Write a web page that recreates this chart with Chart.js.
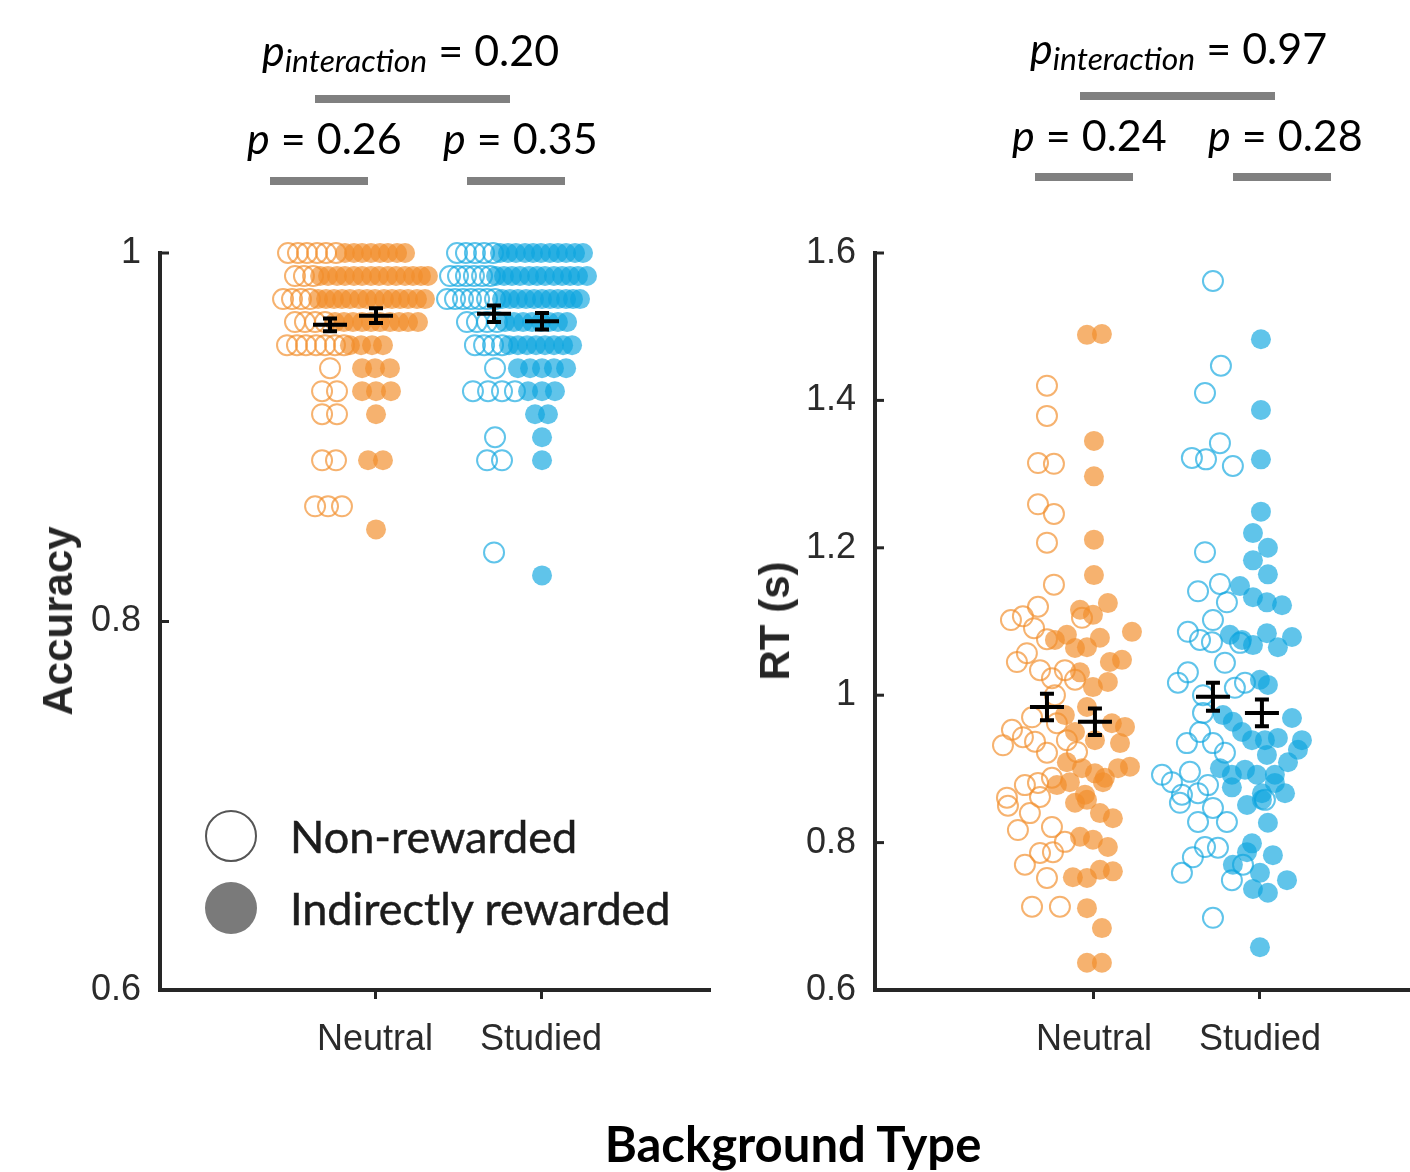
<!DOCTYPE html>
<html>
<head>
<meta charset="utf-8">
<script src="https://cdn.jsdelivr.net/npm/chart.js@4.4.0/dist/chart.umd.min.js"></script>
<style>
  body { margin: 0; background: #fff; }
  #page { position: relative; width: 1410px; height: 1172px; overflow: hidden; background: #fff; }
  canvas { position: absolute; top: 0; }
  .pv { position: absolute; font-family: Lato, "Open Sans", sans-serif; font-size: 43px; line-height: 1; color: #000; white-space: nowrap; }
  .pv sub { font-size: 0.74em; font-style: italic; vertical-align: -0.2em; line-height: 0; }
  .bar { position: absolute; height: 8px; background: #808080; }
  .axtitle { position: absolute; font-family: "Liberation Sans", Arial, sans-serif; font-weight: bold; font-size: 42px; color: #262626; white-space: nowrap; transform: translate(-50%, -50%) rotate(-90deg); }
  .legend { position: absolute; left: 205px; top: 800px; font-family: Lato, sans-serif; font-size: 45px; color: #1c1c1c; -webkit-text-stroke: 0.5px #1c1c1c; }
  .legend .row { position: absolute; left: 0; height: 60px; display: flex; align-items: center; white-space: nowrap; }
  .legend .mk { width: 52px; height: 52px; border-radius: 50%; box-sizing: border-box; margin-right: 33px; -webkit-text-stroke: 0; }
  #xtitle { position: absolute; left: 793px; top: 1143px; transform: translate(-50%, -50%); font-family: Lato, sans-serif; font-weight: bold; font-size: 49px; color: #000; white-space: nowrap; }
</style>
</head>
<body>
<div id="page">
  <canvas id="accChart" width="740" height="1100" style="left:0;width:740px;height:1100px"></canvas>
  <canvas id="rtChart" width="670" height="1100" style="left:740px;width:670px;height:1100px"></canvas>

  <div class="pv" style="left:262px;top:28px"><i>p</i><sub>interaction</sub> = 0.20</div>
  <div class="bar" style="left:315px;top:95px;width:195px"></div>
  <div class="pv" style="left:247px;top:116px"><i>p</i> = 0.26</div>
  <div class="pv" style="left:443px;top:116px"><i>p</i> = 0.35</div>
  <div class="bar" style="left:270px;top:177px;width:98px"></div>
  <div class="bar" style="left:467px;top:177px;width:98px"></div>

  <div class="pv" style="left:1030px;top:26px"><i>p</i><sub>interaction</sub> = 0.97</div>
  <div class="bar" style="left:1080px;top:92px;width:195px"></div>
  <div class="pv" style="left:1012px;top:113px"><i>p</i> = 0.24</div>
  <div class="pv" style="left:1208px;top:113px"><i>p</i> = 0.28</div>
  <div class="bar" style="left:1035px;top:173px;width:98px"></div>
  <div class="bar" style="left:1233px;top:173px;width:98px"></div>

  <div class="axtitle" style="left:58px;top:621px">Accuracy</div>
  <div class="axtitle" style="left:775px;top:621px">RT (s)</div>

  <div class="legend">
    <div class="row" style="top:6px"><div class="mk" style="border:2px solid #555"></div>Non-rewarded</div>
    <div class="row" style="top:78px"><div class="mk" style="background:#7a7a7a"></div>Indirectly rewarded</div>
  </div>

  <div id="xtitle">Background Type</div>
</div>

<script>
const categories = ["Neutral", "Studied"];
const accTicks = [0.6, 0.8, 1];
const rtTicks = [0.6, 0.8, 1, 1.2, 1.4, 1.6];

// accuracy rows: [accuracy, x positions of the markers in that row]
const accNeutralNon = [
  [1.0, [0.476, 0.536, 0.590, 0.651, 0.705, 0.765]],
  [0.9875, [0.518, 0.572, 0.627]],
  [0.975, [0.446, 0.500, 0.554, 0.608]],
  [0.9625, [0.518, 0.578, 0.639, 0.699]],
  [0.95, [0.470, 0.530, 0.584, 0.645, 0.699, 0.759, 0.813]],
  [0.9375, [0.729]],
  [0.925, [0.681, 0.771]],
  [0.9125, [0.681, 0.771]],
  [0.8875, [0.681, 0.765]],
  [0.8625, [0.639, 0.717, 0.801]]
];
const accNeutralRew = [
  [1.0, [0.819, 0.873, 0.922, 0.976, 1.030, 1.078, 1.133, 1.181]],
  [0.9875, [0.669, 0.717, 0.771, 0.819, 0.873, 0.922, 0.976, 1.024, 1.078, 1.127, 1.181, 1.229, 1.277, 1.319]],
  [0.975, [0.657, 0.705, 0.753, 0.801, 0.849, 0.904, 0.952, 1.000, 1.054, 1.102, 1.151, 1.199, 1.253, 1.301]],
  [0.9625, [0.759, 0.813, 0.867, 0.922, 0.976, 1.030, 1.090, 1.145, 1.199, 1.259]],
  [0.95, [0.849, 0.916, 0.982, 1.048]],
  [0.9375, [0.922, 1.000, 1.090]],
  [0.925, [0.922, 1.006, 1.096]],
  [0.9125, [1.006]],
  [0.8875, [0.958, 1.048]],
  [0.85, [1.006]]
];
const accStudiedNon = [
  [1.0, [1.494, 1.548, 1.602, 1.657, 1.711]],
  [0.9875, [1.452, 1.500, 1.548, 1.596, 1.645, 1.693]],
  [0.975, [1.434, 1.482, 1.530, 1.578, 1.627, 1.675, 1.723]],
  [0.9625, [1.554, 1.614, 1.675, 1.735]],
  [0.95, [1.602, 1.657, 1.711, 1.765]],
  [0.9375, [1.723]],
  [0.925, [1.590, 1.681, 1.765, 1.843]],
  [0.9, [1.723]],
  [0.8875, [1.675, 1.765]],
  [0.8375, [1.717]]
];
const accStudiedRew = [
  [1.0, [1.753, 1.801, 1.849, 1.904, 1.952, 2.000, 2.054, 2.102, 2.151, 2.205, 2.253]],
  [0.9875, [1.729, 1.777, 1.825, 1.873, 1.928, 1.976, 2.024, 2.078, 2.127, 2.175, 2.223, 2.277]],
  [0.975, [1.765, 1.813, 1.861, 1.910, 1.958, 2.006, 2.054, 2.102, 2.151, 2.193, 2.235]],
  [0.9625, [1.783, 1.837, 1.892, 1.946, 2.000, 2.048, 2.102, 2.157]],
  [0.95, [1.807, 1.861, 1.916, 1.970, 2.024, 2.078, 2.133, 2.187]],
  [0.9375, [1.861, 1.934, 2.006, 2.078, 2.151]],
  [0.925, [1.922, 2.006, 2.084]],
  [0.9125, [1.964, 2.042]],
  [0.9, [2.006]],
  [0.8875, [2.006]],
  [0.825, [2.006]]
];
const accBarX = [0.729, 1.006, 1.717, 2.006];
const accMeans = [0.961, 0.966, 0.967, 0.963];
const accSems = [0.0035, 0.004, 0.0045, 0.0045];

// RT points: [x, RT in s]
const rtNeutralNon = [
  [0.717, 1.420], [0.717, 1.379], [0.663, 1.315], [0.759, 1.314], [0.663, 1.259], [0.759, 1.246],
  [0.717, 1.207], [0.759, 1.150], [0.663, 1.120], [0.572, 1.107], [0.500, 1.102], [0.928, 1.105],
  [0.639, 1.091], [0.717, 1.076], [0.596, 1.057], [0.536, 1.045], [0.675, 1.034], [0.747, 1.023],
  [0.825, 1.034], [0.886, 1.021], [0.765, 1.000], [0.627, 0.970], [0.506, 0.953], [0.452, 0.932],
  [0.572, 0.943], [0.645, 0.937], [0.717, 0.922], [0.777, 0.962], [0.837, 0.939], [0.898, 0.923],
  [0.584, 0.878], [0.663, 0.881], [0.747, 0.888], [0.476, 0.861], [0.675, 0.862], [0.482, 0.850],
  [0.614, 0.840], [0.542, 0.817], [0.747, 0.821], [0.825, 0.801], [0.675, 0.786], [0.753, 0.787],
  [0.584, 0.770], [0.717, 0.752], [0.627, 0.713], [0.795, 0.713]
];
const rtNeutralRew = [
  [0.958, 1.489], [1.048, 1.490], [1.000, 1.345], [1.000, 1.297], [1.000, 1.211], [1.000, 1.163],
  [1.084, 1.125], [0.916, 1.116], [0.994, 1.109], [1.229, 1.086], [0.765, 1.075], [0.837, 1.082],
  [0.886, 1.064], [0.958, 1.065], [1.036, 1.078], [1.096, 1.045], [1.169, 1.048], [0.916, 1.031],
  [0.994, 1.011], [1.084, 1.018], [0.825, 0.973], [0.958, 0.984], [1.108, 0.962], [1.187, 0.957],
  [1.157, 0.935], [0.886, 0.950], [1.006, 0.939], [0.837, 0.909], [0.928, 0.901], [1.006, 0.894],
  [1.066, 0.888], [1.145, 0.901], [1.217, 0.903], [0.777, 0.878], [0.855, 0.882], [0.946, 0.865],
  [1.054, 0.882], [0.886, 0.854], [0.958, 0.858], [1.036, 0.840], [1.114, 0.833], [0.916, 0.808],
  [0.994, 0.804], [1.084, 0.794], [0.873, 0.753], [0.958, 0.752], [1.036, 0.763], [1.114, 0.761],
  [0.958, 0.711], [1.048, 0.684], [0.958, 0.637], [1.048, 0.637]
];
const rtStudiedNon = [
  [1.717, 1.562], [1.765, 1.447], [1.669, 1.410], [1.759, 1.342], [1.590, 1.322], [1.675, 1.320],
  [1.837, 1.311], [1.669, 1.194], [1.759, 1.151], [1.627, 1.141], [1.801, 1.126], [1.717, 1.102],
  [1.566, 1.086], [1.639, 1.075], [1.711, 1.072], [1.880, 1.071], [1.789, 1.044], [1.566, 1.031],
  [1.506, 1.017], [1.849, 1.010], [1.910, 1.017], [1.657, 1.000], [1.657, 0.976], [1.639, 0.950],
  [1.560, 0.935], [1.717, 0.935], [1.789, 0.922], [1.410, 0.892], [1.470, 0.882], [1.578, 0.896],
  [1.687, 0.878], [1.530, 0.865], [1.627, 0.867], [2.030, 0.858], [1.518, 0.854], [1.717, 0.847],
  [1.627, 0.828], [1.801, 0.828], [1.669, 0.794], [1.747, 0.793], [1.596, 0.780], [1.898, 0.770],
  [1.530, 0.759], [1.831, 0.749], [1.717, 0.698]
];
const rtStudiedRew = [
  [2.006, 1.483], [2.006, 1.387], [2.006, 1.320], [2.006, 1.249], [1.958, 1.220], [2.048, 1.200],
  [1.958, 1.183], [2.048, 1.164], [1.880, 1.148], [1.958, 1.133], [2.042, 1.126], [2.133, 1.122],
  [1.819, 1.082], [1.892, 1.075], [1.958, 1.068], [2.042, 1.084], [2.108, 1.065], [2.193, 1.079],
  [2.000, 1.021], [2.048, 1.014], [1.777, 0.973], [1.837, 0.964], [2.193, 0.969], [1.892, 0.950],
  [1.952, 0.939], [2.030, 0.939], [2.108, 0.942], [2.253, 0.939], [2.229, 0.926], [2.042, 0.919],
  [2.169, 0.909], [1.759, 0.901], [1.831, 0.892], [1.910, 0.899], [1.982, 0.892], [2.090, 0.892],
  [2.151, 0.867], [2.012, 0.867], [1.831, 0.875], [1.922, 0.851], [2.012, 0.858], [2.090, 0.881],
  [2.048, 0.827], [1.952, 0.799], [1.922, 0.787], [2.078, 0.783], [1.837, 0.770], [2.000, 0.759],
  [2.163, 0.749], [1.958, 0.737], [2.048, 0.732], [2.000, 0.658]
];
const rtBarX = [0.717, 1.006, 1.717, 2.012];
const rtMeans = [0.984, 0.964, 0.998, 0.976];
const rtSems = [0.018, 0.018, 0.019, 0.018];

const ORANGE = "rgba(242, 142, 43, 0.68)";
const BLUE = "rgba(10, 165, 222, 0.65)";
const AXIS = "#262626";

function rowsToPoints(rows) {
  return rows.flatMap(([y, xs]) => xs.map(x => ({ x: x, y: y })));
}
function pairsToPoints(pairs) {
  return pairs.map(([x, y]) => ({ x: x, y: y }));
}

function openSet(data, color) {
  return { data: data, pointRadius: 10, pointBackgroundColor: "rgba(255,255,255,0)",
           pointBorderColor: color, pointBorderWidth: 2, clip: false, order: 2 };
}
function filledSet(data, color) {
  return { data: data, pointRadius: 10, pointBackgroundColor: color,
           pointBorderWidth: 0, clip: false, order: 1 };
}

// mean +/- SEM markers, drawn through the chart scales
const errorBars = {
  id: "errorBars",
  afterDatasetsDraw(chart, args, opts) {
    const { ctx, scales } = chart;
    ctx.save();
    ctx.strokeStyle = "#000";
    ctx.lineWidth = 4;
    opts.xs.forEach((xv, i) => {
      const px = scales.x.getPixelForValue(xv);
      const pm = scales.y.getPixelForValue(opts.means[i]);
      const pt = scales.y.getPixelForValue(opts.means[i] + opts.sems[i]);
      const pb = scales.y.getPixelForValue(opts.means[i] - opts.sems[i]);
      ctx.beginPath();
      ctx.moveTo(px, pt); ctx.lineTo(px, pb);
      ctx.moveTo(px - 7, pt); ctx.lineTo(px + 7, pt);
      ctx.moveTo(px - 7, pb); ctx.lineTo(px + 7, pb);
      ctx.moveTo(px - 17, pm); ctx.lineTo(px + 17, pm);
      ctx.stroke();
    });
    ctx.restore();
  }
};

// y ticks point into the plot
const innerTicks = {
  id: "innerTicks",
  afterDraw(chart) {
    const { ctx, chartArea, scales } = chart;
    ctx.save();
    ctx.strokeStyle = AXIS;
    ctx.lineWidth = 3;
    scales.y.ticks.forEach(t => {
      const py = scales.y.getPixelForValue(t.value);
      ctx.beginPath();
      ctx.moveTo(chartArea.left, py);
      ctx.lineTo(chartArea.left + 9, py);
      ctx.stroke();
    });
    ctx.restore();
  }
};

function makeChart(id, datasets, opt) {
  return new Chart(document.getElementById(id), {
    type: "scatter",
    data: { datasets: datasets },
    plugins: [errorBars, innerTicks],
    options: {
      responsive: false,
      animation: false,
      events: [],
      devicePixelRatio: 1,
      layout: { autoPadding: false, padding: { top: 253, right: opt.padRight, left: 0, bottom: 0 } },
      plugins: {
        legend: { display: false },
        tooltip: { enabled: false },
        errorBars: opt.bars
      },
      scales: {
        x: {
          type: "linear",
          min: opt.xMin,
          max: opt.xMax,
          afterBuildTicks: s => { s.ticks = [1, 2].map(v => ({ value: v })); },
          afterFit: s => { s.height = 110; },
          ticks: {
            callback: v => categories[v - 1],
            color: "#2b2b2b",
            font: { family: "'Liberation Sans', Arial, sans-serif", size: 36 },
            padding: 19
          },
          grid: { drawOnChartArea: false, drawTicks: true, tickLength: 9, tickWidth: 3, tickColor: AXIS },
          border: { display: true, color: AXIS, width: 4 }
        },
        y: {
          min: opt.yMin,
          max: opt.yMax,
          afterBuildTicks: s => { s.ticks = opt.yTicks.map(v => ({ value: v })); },
          afterFit: s => { s.width = opt.yWidth; },
          ticks: {
            callback: v => String(v),
            color: "#2b2b2b",
            font: { family: "'Liberation Sans', Arial, sans-serif", size: 36 },
            padding: 19
          },
          grid: { display: false, drawTicks: false },
          border: { display: true, color: AXIS, width: 4 }
        }
      }
    }
  });
}

makeChart("accChart", [
  filledSet(rowsToPoints(accNeutralRew), ORANGE),
  filledSet(rowsToPoints(accStudiedRew), BLUE),
  openSet(rowsToPoints(accNeutralNon), ORANGE),
  openSet(rowsToPoints(accStudiedNon), BLUE)
], {
  xMin: -0.2952, xMax: 3.018, yMin: 0.6, yMax: 1.0, yTicks: accTicks,
  yWidth: 160, padRight: 30,
  bars: { xs: accBarX, means: accMeans, sems: accSems }
});

makeChart("rtChart", [
  filledSet(pairsToPoints(rtNeutralRew), ORANGE),
  filledSet(pairsToPoints(rtStudiedRew), BLUE),
  openSet(pairsToPoints(rtNeutralNon), ORANGE),
  openSet(pairsToPoints(rtStudiedNon), BLUE)
], {
  xMin: -0.319, xMax: 2.904, yMin: 0.6, yMax: 1.6, yTicks: rtTicks,
  yWidth: 135, padRight: 0,
  bars: { xs: rtBarX, means: rtMeans, sems: rtSems }
});
</script>
</body>
</html>
